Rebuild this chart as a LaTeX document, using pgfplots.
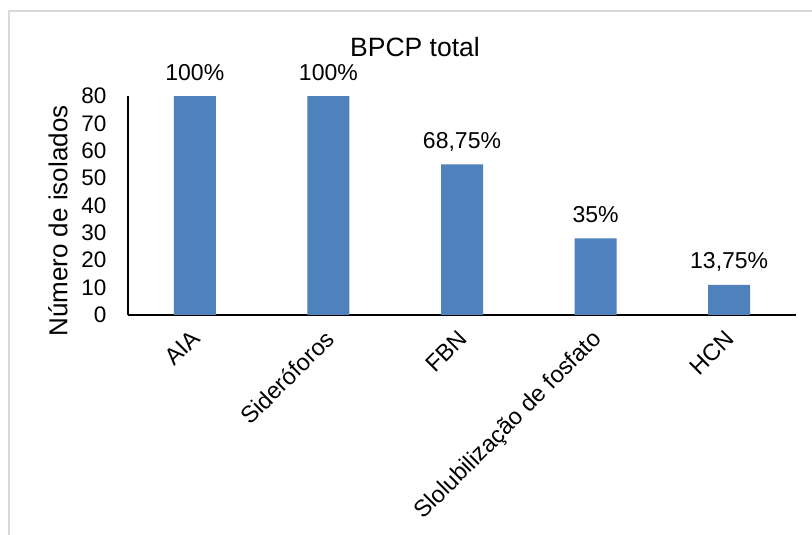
\documentclass[border=0pt]{standalone}
\usepackage{fontspec}
\setmainfont{Liberation Sans}
\usepackage{pgfplots}
\pgfplotsset{compat=1.18}

\definecolor{barblue}{HTML}{4F81BD}
\definecolor{framegray}{HTML}{D9D9D9}

\begin{document}
\begin{tikzpicture}[x=1pt,y=1pt]
  % overall chart area (1pt per unit)
  \useasboundingbox (0,0) rectangle (812,535);
  \fill[white] (0,0) rectangle (812,535);
  \draw[framegray, line width=1.5pt] (9,0) -- (9,524) -- (812,524);

  \begin{axis}[
    at={(128pt,220pt)}, anchor=south west,
    scale only axis,
    width=668pt, height=219pt,
    xmin=-0.5, xmax=4.5,
    ymin=0, ymax=80,
    axis x line*=bottom,
    axis y line*=left,
    axis line style={-, black, line width=1.5pt},
    tick style={draw=none},
    xtick={0,1,2,3,4},
    xticklabels={AIA, Sideróforos, FBN, Slolubilização de fosfato, HCN},
    ytick={0,10,...,80},
    font=\fontsize{22.5}{27}\selectfont,
    /pgf/number format/assume math mode=true,
    yticklabel style={xshift=-18pt},
    xticklabel style={rotate=45, anchor=north east, xshift=-9.6pt, yshift=-2.6pt,
      font=\fontsize{23.5}{28}\selectfont},
    ylabel={Número de isolados},
    ylabel style={at={(axis description cs:-0.1048,0.429)}, anchor=center,
      font=\fontsize{26}{31}\selectfont},
    title={BPCP total},
    title style={at={(axis description cs:0.4296,1.155)}, anchor=base,
      font=\fontsize{26.5}{31}\selectfont},
    clip=false,
  ]
    \addplot[ybar, bar width=42pt, bar shift=0pt, fill=barblue, draw=none,
      point meta=explicit symbolic,
      nodes near coords,
      nodes near coords style={anchor=base, yshift=16pt, text=black,
        font=\fontsize{23}{28}\selectfont}]
      coordinates {
        (0,80) [100\%]
        (1,80) [100\%]
        (2,55) [68,75\%]
        (3,28) [35\%]
        (4,11) [13,75\%]
      };
  \end{axis}
\end{tikzpicture}
\end{document}
